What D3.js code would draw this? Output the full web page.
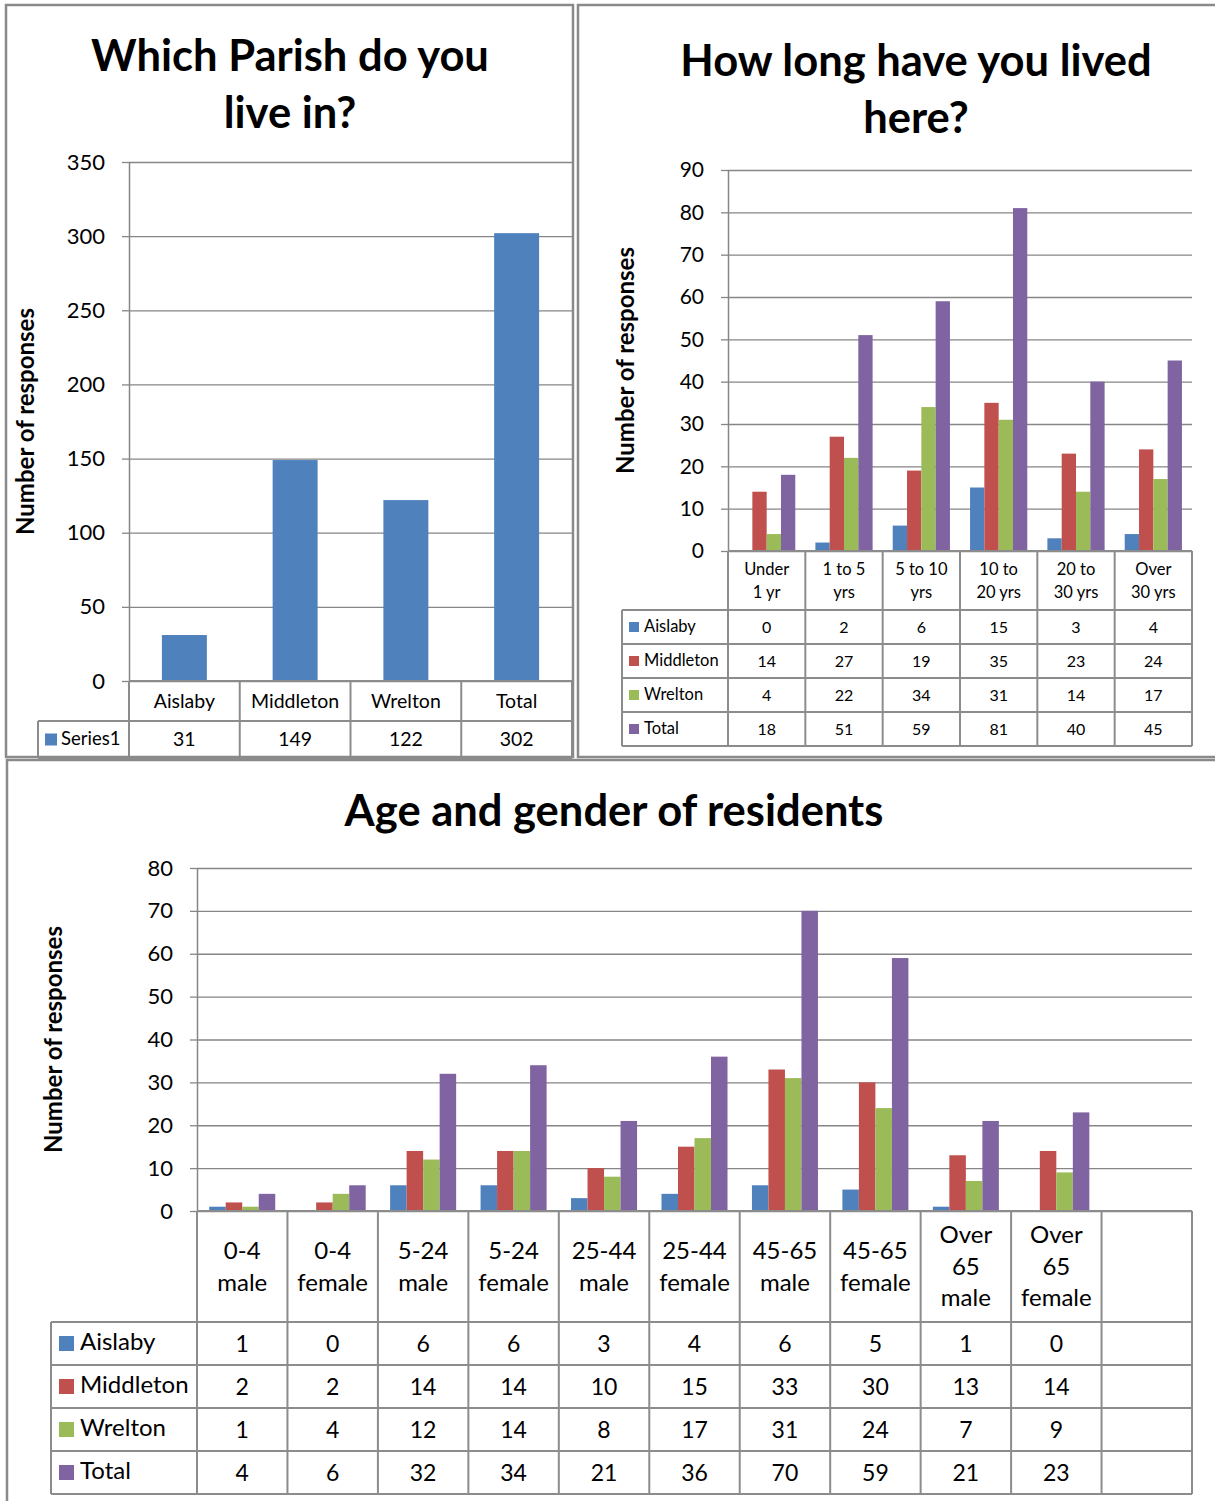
<!DOCTYPE html>
<html><head><meta charset="utf-8">
<script src="https://cdn.jsdelivr.net/npm/d3@7"></script>
<style>
body{margin:0;background:#fff;}
svg{display:block;font-family:Lato,"Open Sans",sans-serif;}
</style></head><body>
<svg id="c" width="1215" height="1501"></svg>
<script>
// ---------- DATA ----------
const parishTitle = ["Which Parish do you", "live in?"];
const parishCategories = ["Aislaby", "Middleton", "Wrelton", "Total"];
const parishSeries = ["Series1"];
const parishSeries1 = [31, 149, 122, 302];
const parishTicks = [0, 50, 100, 150, 200, 250, 300, 350];

const durationTitle = ["How long have you lived", "here?"];
const durationCategories = ["Under\n1 yr", "1 to 5\nyrs", "5 to 10\nyrs", "10 to\n20 yrs", "20 to\n30 yrs", "Over\n30 yrs"];
const durationSeries = ["Aislaby", "Middleton", "Wrelton", "Total"];
const durationAislaby = [0, 2, 6, 15, 3, 4];
const durationMiddleton = [14, 27, 19, 35, 23, 24];
const durationWrelton = [4, 22, 34, 31, 14, 17];
const durationTotal = [18, 51, 59, 81, 40, 45];
const durationTicks = [0, 10, 20, 30, 40, 50, 60, 70, 80, 90];

const ageTitle = ["Age and gender of residents"];
const ageCategories = ["0-4\nmale", "0-4\nfemale", "5-24\nmale", "5-24\nfemale", "25-44\nmale", "25-44\nfemale", "45-65\nmale", "45-65\nfemale", "Over\n65\nmale", "Over\n65\nfemale"];
const ageSeries = ["Aislaby", "Middleton", "Wrelton", "Total"];
const ageAislaby = [1, 0, 6, 6, 3, 4, 6, 5, 1, 0];
const ageMiddleton = [2, 2, 14, 14, 10, 15, 33, 30, 13, 14];
const ageWrelton = [1, 4, 12, 14, 8, 17, 31, 24, 7, 9];
const ageTotal = [4, 6, 32, 34, 21, 36, 70, 59, 21, 23];
const ageTicks = [0, 10, 20, 30, 40, 50, 60, 70, 80];

const yTitle = "Number of responses";
const seriesColors = {"Series1": "#4F81BD", "Aislaby": "#4F81BD", "Middleton": "#C0504D", "Wrelton": "#9BBB59", "Total": "#8064A2"};

// ---------- DRAWING ----------
const svg = d3.select("#c");
svg.append("rect").attr("width", 1215).attr("height", 1501).attr("fill", "#fff");
const GRID = "#868686", LINE = "#8c8c8c";

function drawChart(cfg) {
  const g = svg.append("g");
  const P = cfg.plot;
  // title
  const t = g.append("text").attr("text-anchor", "middle").attr("font-weight", "bold")
    .attr("font-size", cfg.titleSize).attr("fill", "#000");
  cfg.title.forEach((line, i) => t.append("tspan").attr("x", cfg.titleX).attr("y", cfg.titleY + i * cfg.titleLH).text(line));

  const slots = cfg.categories.concat(d3.range(cfg.extraSlots).map(i => "__empty" + i));
  const x = d3.scaleBand().domain(slots).range([P.x0, P.x1]);
  const y = d3.scaleLinear().domain([0, cfg.yMax]).range([P.y0, P.yTop]);

  // gridlines
  g.append("g").attr("transform", `translate(${P.x0},0)`)
    .call(d3.axisLeft(y).tickValues(cfg.ticks).tickSize(-(P.x1 - P.x0)).tickFormat(""))
    .call(s => { s.select(".domain").remove(); s.selectAll("line").attr("stroke", GRID).attr("stroke-width", 1.3); });

  // bars
  const gw = x.bandwidth() * cfg.groupFrac;
  const off = (x.bandwidth() - gw) / 2;
  const xs = d3.scaleBand().domain(cfg.series.map(s => s.name)).range([0, gw]);
  cfg.series.forEach(s => {
    g.append("g").selectAll("rect").data(cfg.categories.map((c, i) => ({c, v: s.values[i]})))
      .join("rect")
      .attr("x", d => x(d.c) + off + xs(s.name))
      .attr("width", xs.bandwidth())
      .attr("y", d => y(d.v))
      .attr("height", d => y(0) - y(d.v))
      .attr("fill", seriesColors[s.name]);
  });

  // y axis
  g.append("g").attr("transform", `translate(${P.x0},0)`)
    .call(d3.axisLeft(y).tickValues(cfg.ticks).tickSize(7).tickSizeOuter(0).tickPadding(cfg.tickPad))
    .call(s => {
      s.select(".domain").attr("stroke", GRID).attr("stroke-width", 1.5);
      s.selectAll(".tick line").attr("stroke", GRID).attr("stroke-width", 1.3);
      s.selectAll(".tick text").attr("font-size", cfg.tickSize).attr("fill", "#000")
        .attr("font-family", "Lato, 'Open Sans', sans-serif");
    });

  // y title
  g.append("text").attr("transform", `translate(${cfg.yTitleX},${(P.y0 + P.yTop) / 2}) rotate(-90)`)
    .attr("text-anchor", "middle").attr("dominant-baseline", "middle")
    .attr("font-weight", "bold").attr("font-size", cfg.yTitleSize).text(yTitle);

  // data table
  const T = cfg.table;
  const hdrBottom = P.y0 + T.headerH;
  const bottom = hdrBottom + T.rowH * cfg.series.length;
  const tg = g.append("g");
  tg.append("line").attr("x1", P.x0).attr("x2", P.x1).attr("y1", P.y0).attr("y2", P.y0);
  d3.range(cfg.series.length + 1).forEach(r => {
    const yy = hdrBottom + r * T.rowH;
    tg.append("line").attr("x1", T.left).attr("x2", P.x1).attr("y1", yy).attr("y2", yy);
  });
  slots.forEach(sl => tg.append("line").attr("x1", x(sl)).attr("x2", x(sl)).attr("y1", P.y0).attr("y2", bottom));
  tg.append("line").attr("x1", P.x1).attr("x2", P.x1).attr("y1", P.y0).attr("y2", bottom);
  tg.append("line").attr("x1", T.left).attr("x2", T.left).attr("y1", hdrBottom).attr("y2", bottom);
  tg.selectAll("line").attr("stroke", LINE).attr("stroke-width", 2);

  // header labels
  cfg.categories.forEach(c => {
    const lines = c.split("\n");
    const cy = P.y0 + T.headerH / 2;
    const txt = tg.append("text").attr("text-anchor", "middle").attr("font-size", T.hdrSize).attr("fill", "#000");
    lines.forEach((ln, i) => txt.append("tspan").attr("x", x(c) + x.bandwidth() / 2)
      .attr("y", cy + (i - (lines.length - 1) / 2) * T.hdrLH).attr("dy", "0.35em").text(ln));
  });
  // rows
  cfg.series.forEach((s, r) => {
    const cy = hdrBottom + r * T.rowH + T.rowH / 2;
    tg.append("rect").attr("x", T.left + T.sqX).attr("y", cy - T.sq / 2 + T.sqDy).attr("width", T.sq).attr("height", T.sq)
      .attr("fill", seriesColors[s.name]);
    tg.append("text").attr("x", T.left + T.labX).attr("y", cy + T.labDy).attr("dy", "0.35em")
      .attr("font-size", T.labSize).attr("fill", "#000").text(s.name);
    cfg.categories.forEach((c, i) => {
      tg.append("text").attr("x", x(c) + x.bandwidth() / 2).attr("y", cy).attr("dy", "0.35em")
        .attr("text-anchor", "middle").attr("font-size", T.valSize).attr("fill", "#000").text(s.values[i]);
    });
  });

  // panel border
  g.append("rect").attr("x", cfg.panel.x).attr("y", cfg.panel.y).attr("width", cfg.panel.w).attr("height", cfg.panel.h)
    .attr("fill", "none").attr("stroke", "#8a8a8a").attr("stroke-width", 2.5);
}

drawChart({
  panel: {x: 6, y: 5, w: 567, h: 752},
  title: parishTitle, titleX: 290, titleY: 71, titleLH: 57, titleSize: 43.5,
  categories: parishCategories, extraSlots: 0,
  series: [{name: parishSeries[0], values: parishSeries1}],
  plot: {x0: 129, x1: 572, y0: 681, yTop: 162},
  yMax: 350, ticks: parishTicks, tickSize: 22, tickPad: 17, groupFrac: 0.406,
  yTitleX: 28, yTitleSize: 24,
  table: {left: 38, headerH: 40, rowH: 37, hdrSize: 19.5, hdrLH: 22, valSize: 19.5, labSize: 18.5,
          sq: 12, sqX: 7, sqDy: 0, labX: 23, labDy: -1}
});

drawChart({
  panel: {x: 578, y: 5, w: 676, h: 752},
  title: durationTitle, titleX: 916, titleY: 76, titleLH: 57, titleSize: 43.5,
  categories: durationCategories, extraSlots: 0,
  series: [
    {name: "Aislaby", values: durationAislaby},
    {name: "Middleton", values: durationMiddleton},
    {name: "Wrelton", values: durationWrelton},
    {name: "Total", values: durationTotal}
  ],
  plot: {x0: 728, x1: 1192, y0: 551, yTop: 170},
  yMax: 90, ticks: durationTicks, tickSize: 21, tickPad: 17, groupFrac: 0.74,
  yTitleX: 628, yTitleSize: 24,
  table: {left: 622, headerH: 59, rowH: 34, hdrSize: 16.5, hdrLH: 23, valSize: 16, labSize: 16.5,
          sq: 10, sqX: 7, sqDy: 0, labX: 22, labDy: -1}
});

drawChart({
  panel: {x: 7, y: 760, w: 1212, h: 745},
  title: ageTitle, titleX: 614, titleY: 826, titleLH: 57, titleSize: 43.5,
  categories: ageCategories, extraSlots: 1,
  series: [
    {name: "Aislaby", values: ageAislaby},
    {name: "Middleton", values: ageMiddleton},
    {name: "Wrelton", values: ageWrelton},
    {name: "Total", values: ageTotal}
  ],
  plot: {x0: 197, x1: 1192, y0: 1211, yTop: 868},
  yMax: 80, ticks: ageTicks, tickSize: 22, tickPad: 17, groupFrac: 0.73,
  yTitleX: 56, yTitleSize: 24,
  table: {left: 51, headerH: 111, rowH: 43, hdrSize: 24, hdrLH: 31.5, valSize: 23, labSize: 24,
          sq: 15, sqX: 8, sqDy: 0, labX: 29, labDy: -2}
});
</script>
</body></html>
